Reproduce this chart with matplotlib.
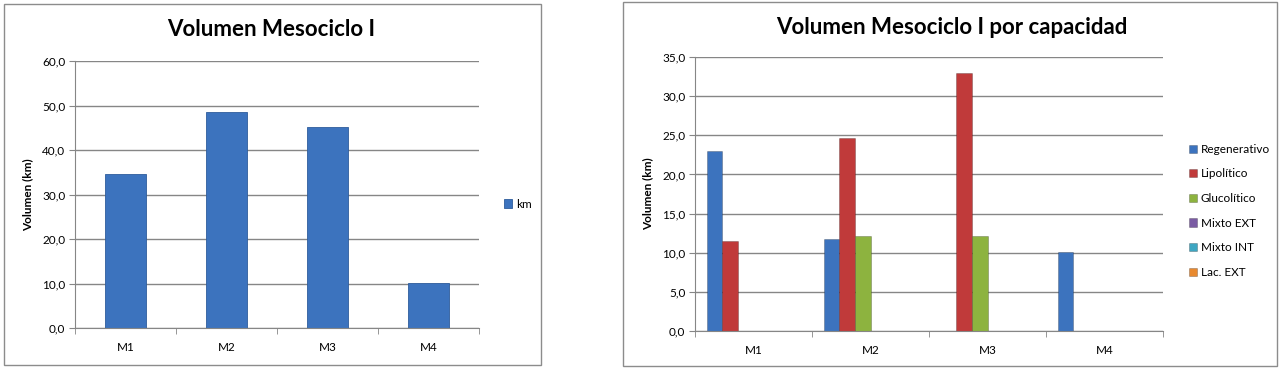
import matplotlib
matplotlib.use("Agg")
import matplotlib.pyplot as plt
from matplotlib.patches import Rectangle
from matplotlib.ticker import FuncFormatter, MultipleLocator, FixedLocator
import numpy as np

plt.rcParams['font.family'] = ['Lato', 'DejaVu Sans']

# data
meses = ["M1", "M2", "M3", "M4"]
km_total = [34.5, 48.6, 45.1, 10.1]

capacidades = ["Regenerativo", "Lipolítico", "Glucolítico", "Mixto EXT", "Mixto INT", "Lac. EXT"]
regenerativo = [23.0, 11.8, 0.0, 10.1]
lipolitico = [11.5, 24.7, 33.0, 0.0]
glucolitico = [0.0, 12.1, 12.1, 0.0]
mixto_ext = [0.0, 0.0, 0.0, 0.0]
mixto_int = [0.0, 0.0, 0.0, 0.0]
lac_ext = [0.0, 0.0, 0.0, 0.0]
colores = ["#3C73BE", "#C03A3A", "#8DB33F", "#7A5BA3", "#3EA6C2", "#E8892F"]

W, H = 1283, 370
fig = plt.figure(figsize=(W / 100, H / 100), dpi=100)


def px_rect(x0, y0, x1, y1):
    return [x0 / W, 1 - y1 / H, (x1 - x0) / W, (y1 - y0) / H]


def fmt(v, pos):
    return ("%.1f" % v).replace(".", ",")


def style_axes(ax, ymax, step):
    ax.set_xlim(-0.5, 3.5)
    ax.set_ylim(0, ymax)
    ax.yaxis.set_major_locator(MultipleLocator(step))
    ax.yaxis.set_major_formatter(FuncFormatter(fmt))
    ax.set_xticks(range(4))
    ax.set_xticklabels(meses)
    ax.xaxis.set_minor_locator(FixedLocator(np.arange(-0.5, 4.0, 1.0)))
    ax.tick_params(axis='x', which='major', length=0, pad=10, labelsize=8.5)
    ax.tick_params(axis='x', which='minor', length=4, color="#868686", direction='out')
    ax.tick_params(axis='y', length=4, color="#868686", labelsize=8.5, pad=3)
    for s in ["top", "right"]:
        ax.spines[s].set_visible(False)
    for s in ["left", "bottom"]:
        ax.spines[s].set_color("#868686")
    ax.set_axisbelow(True)
    ax.grid(axis='y', color="#868686", linewidth=1)
    ax.set_ylabel("Volumen (km)", fontsize=8.5, fontweight='bold', labelpad=6)


# left chart
fig.patches.append(Rectangle((4 / W, 1 - 365 / H), 537 / W, 361 / H, transform=fig.transFigure,
                             fill=False, edgecolor="#8C8C8C", linewidth=1))
ax1 = fig.add_axes(px_rect(75, 61, 479, 328))
x = np.arange(len(meses))
ax1.bar(x, km_total, width=0.4, color=colores[0], edgecolor="#2E5C9C", linewidth=0.6, label="km")
style_axes(ax1, 60, 10)
fig.text(271 / W, 1 - 30 / H, "Volumen Mesociclo I", ha='center', va='center',
         fontsize=16, fontweight='bold')
fig.legend(handles=ax1.patches[:1], labels=["km"], loc='center left',
           bbox_to_anchor=(498 / W, 1 - 204 / H), frameon=False, fontsize=8.5,
           handlelength=0.7, handleheight=0.7, handletextpad=0.3, borderpad=0)

# right chart
fig.patches.append(Rectangle((623 / W, 1 - 366 / H), 654 / W, 364 / H, transform=fig.transFigure,
                             fill=False, edgecolor="#8C8C8C", linewidth=1))
ax2 = fig.add_axes(px_rect(695, 57, 1163, 331))
series = [regenerativo, lipolitico, glucolitico, mixto_ext, mixto_int, lac_ext]
bw = 1 / 7.5
handles = []
for i, (nombre, vals) in enumerate(zip(capacidades, series)):
    b = ax2.bar(x + (i - 2.5) * bw, vals, width=bw, color=colores[i],
                edgecolor="#00000040", linewidth=0.6, label=nombre)
    handles.append(b)
style_axes(ax2, 35, 5)
fig.text(952 / W, 1 - 27 / H, "Volumen Mesociclo I por capacidad", ha='center', va='center',
         fontsize=16, fontweight='bold')
fig.legend(handles=handles, labels=capacidades, loc='upper left',
           bbox_to_anchor=(1183 / W, 1 - 138 / H), frameon=False, fontsize=8.5,
           handlelength=0.7, handleheight=0.7, handletextpad=0.3, borderpad=0,
           labelspacing=1.15)

fig.savefig("out.png", dpi=100)
